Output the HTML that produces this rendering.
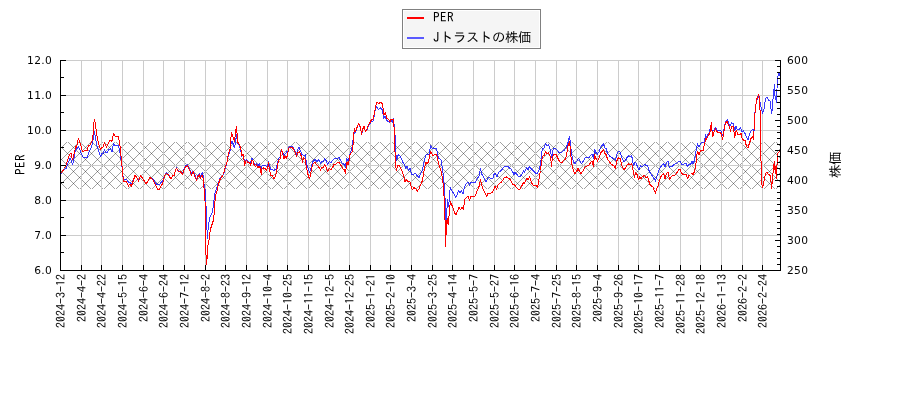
<!DOCTYPE html>
<html lang="ja"><head><meta charset="utf-8"><title>PER / Jトラストの株価</title>
<style>
html,body{margin:0;padding:0;background:#fff;}
body{width:900px;height:400px;overflow:hidden;position:relative;}
svg{position:absolute;left:0;top:0;display:block;}
.yl{font-family:"DejaVu Sans","Liberation Sans",sans-serif;font-size:10.67px;fill:#000;letter-spacing:0.3px;}
.xl{font-family:"IPAGothic","Liberation Mono","Noto Sans CJK JP",monospace;font-size:12px;fill:#000;}
.ti{font-family:"IPAGothic","Liberation Sans","Noto Sans CJK JP",sans-serif;font-size:13.33px;fill:#000;}
</style></head><body>
<svg width="900" height="400" viewBox="0 0 900 400">
<defs>
<clipPath id="pc"><rect x="61" y="60" width="719" height="210"/></clipPath>
<clipPath id="bc"><rect x="61" y="142" width="719" height="47"/></clipPath>
</defs>
<rect x="0" y="0" width="900" height="400" fill="#fff"/>
<g clip-path="url(#bc)" stroke="#000" stroke-opacity="0.37" stroke-width="1" fill="none" shape-rendering="crispEdges">
<path d="M57 140L6 191M69 140L18 191M81 140L30 191M93 140L42 191M105 140L54 191M117 140L66 191M129 140L78 191M141 140L90 191M153 140L102 191M165 140L114 191M177 140L126 191M189 140L138 191M201 140L150 191M213 140L162 191M225 140L174 191M237 140L186 191M249 140L198 191M261 140L210 191M273 140L222 191M285 140L234 191M297 140L246 191M309 140L258 191M321 140L270 191M333 140L282 191M345 140L294 191M357 140L306 191M369 140L318 191M381 140L330 191M393 140L342 191M405 140L354 191M417 140L366 191M429 140L378 191M441 140L390 191M453 140L402 191M465 140L414 191M477 140L426 191M489 140L438 191M501 140L450 191M513 140L462 191M525 140L474 191M537 140L486 191M549 140L498 191M561 140L510 191M573 140L522 191M585 140L534 191M597 140L546 191M609 140L558 191M621 140L570 191M633 140L582 191M645 140L594 191M657 140L606 191M669 140L618 191M681 140L630 191M693 140L642 191M705 140L654 191M717 140L666 191M729 140L678 191M741 140L690 191M753 140L702 191M765 140L714 191M777 140L726 191M789 140L738 191M801 140L750 191M813 140L762 191M825 140L774 191M837 140L786 191"/>
<path d="M6 140L57 191M18 140L69 191M30 140L81 191M42 140L93 191M54 140L105 191M66 140L117 191M78 140L129 191M90 140L141 191M102 140L153 191M114 140L165 191M126 140L177 191M138 140L189 191M150 140L201 191M162 140L213 191M174 140L225 191M186 140L237 191M198 140L249 191M210 140L261 191M222 140L273 191M234 140L285 191M246 140L297 191M258 140L309 191M270 140L321 191M282 140L333 191M294 140L345 191M306 140L357 191M318 140L369 191M330 140L381 191M342 140L393 191M354 140L405 191M366 140L417 191M378 140L429 191M390 140L441 191M402 140L453 191M414 140L465 191M426 140L477 191M438 140L489 191M450 140L501 191M462 140L513 191M474 140L525 191M486 140L537 191M498 140L549 191M510 140L561 191M522 140L573 191M534 140L585 191M546 140L597 191M558 140L609 191M570 140L621 191M582 140L633 191M594 140L645 191M606 140L657 191M618 140L669 191M630 140L681 191M642 140L693 191M654 140L705 191M666 140L717 191M678 140L729 191M690 140L741 191M702 140L753 191M714 140L765 191M726 140L777 191M738 140L789 191M750 140L801 191M762 140L813 191M774 140L825 191M786 140L837 191"/>
</g>
<path d="M81.5 60V270M101.5 60V270M122.5 60V270M143.5 60V270M163.5 60V270M184.5 60V270M205.5 60V270M225.5 60V270M246.5 60V270M267.5 60V270M287.5 60V270M308.5 60V270M329.5 60V270M349.5 60V270M370.5 60V270M390.5 60V270M411.5 60V270M432.5 60V270M452.5 60V270M473.5 60V270M494.5 60V270M514.5 60V270M535.5 60V270M556.5 60V270M576.5 60V270M597.5 60V270M618.5 60V270M638.5 60V270M659.5 60V270M680.5 60V270M700.5 60V270M721.5 60V270M742.5 60V270M762.5 60V270M61 60.5H780M61 95.5H780M61 130.5H780M61 165.5H780M61 200.5H780M61 235.5H780" stroke="#cccccc" stroke-width="1" fill="none" shape-rendering="crispEdges"/>
<g clip-path="url(#pc)" fill="none" stroke-linejoin="round" shape-rendering="crispEdges">
<polyline points="60.5,174.0 64.0,170.0 66.0,168.5 68.0,163.0 70.0,158.5 71.5,161.0 72.5,165.0 74.0,158.0 75.0,152.0 75.0,152.0 76.5,149.0 78.5,147.0 80.0,150.0 81.5,154.0 81.5,154.0 83.5,157.5 87.0,157.5 89.0,152.0 89.0,152.0 90.5,149.0 92.0,145.0 93.5,137.0 94.5,131.5 95.5,138.0 96.5,144.0 98.0,149.0 99.5,153.0 100.5,157.0 102.0,153.5 103.5,153.0 104.5,149.5 106.0,153.0 107.0,152.5 109.0,149.5 110.5,149.0 112.0,152.0 113.5,143.5 115.0,145.5 116.5,145.0 118.5,145.0 119.5,150.0 120.5,155.0 121.0,159.5 122.0,167.0 123.0,176.0 124.0,179.5 126.5,179.5 129.0,183.0 130.0,182.0 131.5,184.0 133.5,179.0 135.0,175.5 136.5,177.0 138.5,180.0 140.5,176.0 142.5,178.0 146.0,183.5 148.5,180.0 150.0,177.5 153.0,179.0 155.5,183.0 157.5,185.0 159.5,184.5 161.0,182.5 162.5,181.0 164.0,177.5 165.0,175.0 166.5,173.0 168.5,174.5 170.0,177.0 171.0,178.5 172.5,176.0 174.5,175.0 175.5,170.0 176.5,168.0 178.5,171.0 180.5,171.5 182.5,173.5 184.0,169.5 186.0,165.5 187.5,164.5 188.5,167.0 190.0,170.0 191.5,173.5 193.0,171.0 194.5,174.0 196.5,179.0 198.0,175.0 199.5,173.5 200.5,176.5 202.5,172.5 203.5,178.0 204.5,189.0 205.5,190.0 206.0,205.0 206.5,222.0 207.0,230.0 207.4,239.0 207.8,234.0 208.0,230.0 208.5,225.0 210.0,217.0 212.0,213.0 213.5,206.0 214.0,200.0 214.5,195.0 216.0,190.0 216.0,190.0 218.0,184.0 220.0,178.5 222.0,176.0 223.5,174.5 225.0,169.0 227.0,162.5 227.2,160.0 228.5,155.0 230.0,151.0 231.0,144.0 232.0,141.5 233.0,143.5 234.5,148.0 235.5,142.0 236.5,135.0 237.5,143.0 239.0,145.0 240.5,149.0 241.5,154.0 241.5,157.0 243.0,155.0 244.0,159.0 245.0,162.0 246.5,159.5 248.0,161.0 250.0,163.0 252.0,158.5 253.5,162.0 255.0,164.5 256.5,163.5 258.0,165.5 259.5,164.0 261.0,170.5 262.0,166.0 263.5,165.5 266.0,166.0 267.5,166.0 268.5,161.5 269.5,166.0 270.5,169.0 272.5,169.5 274.0,170.5 276.0,169.0 277.0,165.0 278.5,159.0 280.0,157.0 280.0,155.0 281.5,149.5 283.0,153.0 284.5,155.0 286.5,152.0 287.5,153.5 288.5,148.5 289.5,146.5 292.5,146.5 294.0,149.5 295.5,152.0 296.5,154.5 298.0,149.0 299.0,147.5 300.5,151.0 302.0,154.5 304.0,155.5 305.5,155.0 306.0,160.0 307.5,167.0 309.5,172.0 311.0,168.0 312.5,162.0 315.0,159.5 317.0,161.5 318.5,159.5 320.5,163.0 322.0,161.5 323.5,161.0 324.5,158.5 326.0,160.5 327.5,164.0 329.5,161.5 331.0,162.5 332.5,160.5 334.5,158.5 336.5,158.5 339.0,157.5 340.5,160.5 342.0,163.0 344.0,164.5 345.5,167.0 346.5,159.0 348.0,160.5 349.0,158.5 350.0,154.0 351.5,149.5 352.5,145.0 353.5,135.0 355.0,132.5 356.5,129.5 358.5,124.0 360.0,126.5 361.0,131.0 361.7,134.5 362.5,130.0 364.0,127.0 365.5,131.5 367.0,129.5 368.5,125.0 370.0,124.0 371.5,121.5 373.0,121.0 374.5,114.5 375.5,108.5 376.5,107.0 378.5,109.5 380.5,108.0 382.5,110.0 383.5,118.5 385.0,116.5 386.5,120.0 388.0,121.5 389.5,122.5 391.0,120.0 392.5,122.5 393.5,118.5 394.5,129.0 395.0,135.0 395.5,145.0 396.0,155.0 396.5,161.0 397.5,156.5 398.5,154.5 400.0,156.0 401.5,159.0 403.0,162.5 405.0,166.0 405.0,169.0 407.0,166.5 408.5,170.0 410.0,168.5 411.5,174.0 413.5,175.0 415.0,173.0 417.0,175.5 419.0,177.5 420.5,174.0 422.0,171.5 423.5,164.5 424.5,160.0 426.0,155.0 427.5,154.5 429.0,154.0 430.0,149.5 430.8,145.5 432.0,148.0 434.0,149.0 435.5,148.5 436.5,148.5 437.5,154.0 438.5,158.0 440.0,159.0 441.2,160.5 442.0,166.0 443.0,173.0 443.5,179.0 444.2,185.0 445.0,198.0 445.5,206.0 445.8,215.0 446.0,223.5 446.8,212.0 447.5,200.0 448.5,206.5 449.0,202.0 449.5,193.0 450.5,187.5 452.0,191.0 454.0,194.0 455.5,197.5 457.0,195.0 458.5,190.5 460.0,193.0 461.5,191.0 463.0,194.0 464.0,189.0 465.0,186.0 466.5,183.5 468.0,182.0 469.5,185.0 471.0,182.5 473.5,182.0 475.5,182.0 477.0,179.0 479.0,176.0 480.5,169.0 482.0,174.5 484.0,178.0 486.0,181.5 487.5,179.0 489.0,177.0 490.5,178.5 493.0,178.0 494.0,174.5 495.0,173.0 497.0,176.5 498.5,172.5 500.5,171.0 502.0,169.5 504.0,167.0 505.5,166.0 507.5,166.0 509.5,168.0 511.0,169.0 512.5,171.5 514.0,174.5 515.0,172.5 516.5,174.0 518.5,176.5 520.5,176.5 522.0,174.0 523.5,171.0 524.5,172.5 525.5,170.0 526.5,167.5 528.0,169.5 529.5,166.5 531.0,168.5 533.0,170.5 535.0,172.5 537.0,174.0 538.5,171.5 539.5,168.5 540.5,164.0 541.0,160.0 541.5,154.0 542.5,149.0 544.0,148.0 545.5,144.0 547.0,146.0 548.5,145.0 550.0,149.0 551.0,154.0 551.7,158.0 552.5,152.0 553.5,148.5 555.5,148.5 557.0,150.0 559.0,152.5 561.5,152.5 563.5,150.5 565.5,149.5 566.5,147.0 568.0,142.5 569.5,136.5 570.2,141.0 571.0,149.0 571.5,155.0 572.0,156.0 573.5,162.0 575.0,163.5 577.0,161.0 578.5,158.5 580.0,161.0 581.5,163.5 583.5,161.0 585.0,158.0 587.0,157.5 589.0,157.5 590.5,155.5 592.0,154.0 593.5,158.5 594.5,149.5 596.0,152.5 597.5,154.0 599.0,152.0 600.5,147.5 602.0,145.5 603.5,143.5 604.5,147.5 606.0,148.5 607.5,153.0 609.5,156.0 611.5,157.5 613.5,158.5 615.5,160.5 617.0,154.0 618.5,151.5 620.0,152.0 621.0,155.0 622.5,159.5 624.0,161.5 625.5,160.5 627.0,157.5 628.5,156.0 630.0,157.0 631.5,155.5 632.5,159.5 633.5,165.5 635.0,162.5 636.5,163.5 637.5,167.5 639.0,169.5 640.5,165.5 642.0,167.0 643.5,165.5 645.0,164.5 646.5,166.0 647.5,165.5 649.0,170.5 650.5,173.5 652.5,176.0 654.0,178.5 655.5,181.0 656.2,178.5 657.5,174.5 659.0,170.0 660.5,167.5 662.0,165.0 663.5,163.5 665.0,166.5 666.5,162.5 668.0,161.5 669.5,168.0 671.0,166.0 672.5,166.0 674.0,164.5 675.0,164.0 677.0,163.0 678.5,161.5 680.0,161.5 681.5,164.0 683.5,164.5 685.0,163.5 686.5,164.0 687.5,167.0 689.0,164.0 690.5,164.5 692.0,161.5 693.0,164.0 694.0,161.5 695.0,157.0 696.0,151.0 697.0,146.0 697.5,144.0 699.0,147.0 700.5,143.5 702.0,142.5 703.5,143.0 704.5,140.5 705.5,135.0 706.5,137.0 708.0,134.5 709.5,132.0 710.5,125.5 711.5,129.0 712.5,131.0 714.0,130.0 715.5,127.5 717.0,130.0 719.0,130.5 721.0,131.0 722.5,136.0 723.5,132.0 724.5,126.5 725.5,121.5 727.5,119.5 728.5,123.0 730.0,126.0 731.5,123.0 733.5,123.5 734.5,131.0 736.0,126.5 737.5,130.0 739.0,129.5 740.5,127.5 742.0,132.0 743.5,131.0 745.0,133.5 746.5,137.0 748.0,139.5 749.5,134.5 751.0,131.0 753.0,129.0 754.0,132.0 754.5,117.0 755.5,107.0 757.0,99.5 758.5,96.0 759.5,99.0 760.0,102.0 761.0,107.0 762.5,113.5 764.0,109.0 765.5,99.0 767.0,97.0 768.5,100.0 770.0,100.5 771.5,113.5 772.5,108.0 773.0,99.0 773.5,94.0 774.5,85.0 775.0,96.0 776.3,101.0 776.7,102.5 777.0,89.0 777.5,77.0 779.0,73.5 780.0,76.0" stroke="#0000ff" stroke-opacity="0.78" stroke-width="1"/>
<polyline points="60.5,174.0 64.5,168.5 67.5,161.0 68.5,157.5 70.0,154.0 71.0,153.5 72.5,160.0 73.5,155.5 75.0,150.0 75.0,147.0 76.0,146.0 76.5,148.0 77.5,142.0 78.5,138.5 79.5,141.0 81.0,146.0 82.5,152.0 84.5,150.5 87.0,151.0 88.5,145.0 90.0,145.0 92.0,141.5 93.0,135.0 93.5,125.0 94.5,120.0 95.5,124.0 96.5,133.0 97.5,139.0 99.0,145.0 100.5,150.0 101.5,147.5 103.0,147.0 104.5,142.5 106.5,147.0 109.0,142.0 110.3,140.0 111.5,141.5 112.5,139.5 113.5,133.5 114.5,135.0 115.5,136.5 118.5,136.5 119.5,143.0 120.5,149.5 121.0,156.0 121.5,162.0 122.5,170.0 123.2,180.0 124.0,181.5 126.5,181.5 128.5,186.0 130.0,184.0 131.5,186.0 133.5,180.0 135.0,175.5 136.5,177.0 138.5,181.0 140.5,176.0 142.5,178.0 146.0,184.0 148.5,180.0 150.0,177.5 153.0,180.0 155.5,185.0 157.5,189.0 159.5,189.0 161.0,186.0 162.5,184.0 164.0,178.0 165.0,175.0 166.5,173.5 168.5,175.0 170.0,177.5 171.0,179.0 172.5,176.0 174.5,175.0 175.5,170.0 176.5,168.5 178.5,171.5 180.5,172.0 182.5,174.5 184.0,170.0 186.0,166.5 187.5,165.5 188.5,168.0 190.0,171.0 191.5,175.0 192.5,173.0 193.5,172.0 194.5,175.5 196.5,180.5 198.0,176.5 199.5,175.0 200.5,178.5 202.0,175.0 203.0,177.5 204.0,188.0 204.7,190.0 205.0,201.0 205.5,230.0 205.8,245.0 206.2,264.5 207.2,258.0 207.8,245.0 208.8,244.0 209.2,236.0 210.0,232.0 210.5,229.0 213.5,220.0 214.5,210.0 215.0,201.0 216.0,194.0 217.0,191.0 218.5,184.0 220.0,179.5 222.0,176.5 223.5,174.5 225.0,168.0 227.0,162.0 227.0,160.0 228.5,154.0 230.0,149.0 230.5,141.0 231.5,132.5 232.5,135.0 233.5,139.0 234.5,141.5 235.5,132.0 236.5,126.5 237.0,133.0 237.5,142.0 239.0,144.0 240.5,147.0 241.5,153.0 242.0,155.5 243.2,154.5 244.0,160.0 244.7,166.0 245.5,162.0 246.5,160.5 248.0,162.5 249.5,163.0 250.5,165.0 252.0,160.5 253.0,161.0 254.0,164.5 255.5,166.5 256.5,165.0 258.0,168.0 259.0,166.5 260.0,167.5 261.2,174.5 262.0,169.0 263.5,168.0 265.0,168.5 266.5,170.0 267.5,168.5 268.5,163.0 269.5,170.0 271.0,175.5 272.5,176.0 274.0,178.5 275.5,176.0 276.5,171.5 278.0,163.0 279.0,160.0 280.0,159.0 280.5,154.0 281.5,150.0 282.5,153.0 284.0,158.5 285.0,156.0 286.5,158.0 287.5,155.0 288.5,149.0 290.0,147.0 292.5,148.0 294.0,150.0 295.5,153.5 296.5,156.5 298.0,152.5 299.5,151.5 300.5,154.0 302.0,158.5 302.5,163.0 303.5,158.0 305.0,158.5 306.0,165.0 307.5,173.0 309.5,179.0 311.0,172.0 312.0,167.0 313.0,164.0 315.0,162.5 317.0,165.0 319.0,167.5 320.5,170.0 322.0,167.5 323.5,168.0 324.5,164.5 326.0,167.0 327.5,171.0 329.5,168.5 331.0,170.0 332.5,167.5 334.0,164.5 336.0,164.0 337.5,162.5 339.0,162.0 340.5,165.0 342.0,167.0 343.5,169.5 344.5,170.0 345.5,173.5 346.5,165.0 347.0,162.5 348.0,165.0 349.0,161.0 350.0,155.0 351.0,153.0 352.5,151.5 353.0,145.0 353.5,135.0 354.5,128.5 355.2,132.0 356.5,129.0 358.5,123.5 360.0,126.0 361.0,131.0 361.5,134.5 362.5,129.5 364.0,126.5 365.5,131.5 367.0,129.0 368.5,124.5 370.0,122.5 371.5,119.5 373.0,119.0 374.0,115.5 375.0,110.0 376.0,105.0 377.0,102.5 378.5,103.5 380.5,102.5 382.5,103.5 383.5,112.0 384.0,114.5 385.5,112.5 386.5,118.0 388.5,119.5 390.0,121.5 391.0,119.0 393.5,119.0 394.0,127.0 394.5,135.0 395.0,152.0 395.5,165.0 396.5,171.0 397.5,166.0 399.0,165.5 400.5,167.5 402.0,171.0 403.5,175.0 405.0,182.0 406.5,180.0 408.0,181.5 410.0,182.0 411.5,188.0 412.5,189.5 414.0,187.5 416.0,189.0 417.5,191.0 419.0,189.0 420.5,185.0 422.0,181.5 423.0,177.0 423.5,173.0 425.0,166.0 426.0,162.5 427.0,163.5 428.5,162.0 429.5,156.0 430.5,151.5 431.5,153.0 433.0,155.5 435.0,154.5 436.5,154.5 437.5,158.0 438.5,163.0 440.0,168.0 441.5,172.0 442.5,179.0 442.8,181.0 443.5,189.0 444.2,198.0 444.7,207.0 444.9,216.0 445.1,223.0 445.5,239.0 445.5,246.5 445.9,239.0 446.3,225.0 447.4,218.0 448.1,224.5 448.7,220.0 449.3,212.0 449.5,209.0 450.5,202.0 452.0,205.5 453.5,209.5 455.0,213.5 456.0,214.5 457.5,211.0 459.0,207.5 460.5,209.5 462.0,207.5 463.2,209.5 464.0,205.0 465.0,199.0 466.5,197.5 468.0,196.5 469.5,200.0 471.0,196.5 473.0,196.5 475.0,196.0 476.5,192.5 478.5,188.0 479.5,185.0 480.5,179.5 481.5,185.0 483.0,189.0 485.0,193.0 486.5,196.5 488.0,193.5 489.5,193.5 492.0,192.5 493.5,190.0 495.0,186.0 496.5,189.0 498.0,185.0 499.5,183.5 501.5,182.0 503.0,180.0 504.5,177.5 506.5,177.0 508.0,178.0 510.0,179.5 511.5,182.0 513.0,184.5 514.5,185.0 516.5,187.5 518.5,189.5 520.0,189.0 521.5,186.5 523.5,182.5 524.5,183.5 525.5,181.0 527.0,178.5 528.0,180.0 529.5,176.5 530.5,180.0 532.0,183.5 533.5,185.5 536.0,185.5 537.5,187.5 538.5,182.0 539.5,175.5 540.5,170.5 541.5,162.0 542.5,156.5 544.0,155.5 545.5,151.5 547.0,153.5 548.5,152.5 550.0,156.0 551.0,161.0 551.5,166.5 552.2,159.0 553.5,154.5 556.0,154.5 557.5,157.5 559.0,160.5 560.5,162.5 562.0,162.5 564.0,160.0 565.5,159.0 566.5,154.5 567.5,149.0 568.5,144.0 569.5,141.5 570.2,147.0 570.8,155.0 571.0,157.0 572.0,165.0 573.5,171.0 575.0,173.5 576.5,171.5 578.0,168.5 579.5,171.5 581.0,173.5 583.0,171.0 585.0,167.0 587.0,166.0 589.0,165.0 590.5,163.0 592.0,161.0 593.5,166.5 594.5,154.5 596.0,158.5 597.5,161.0 599.0,158.5 600.5,153.0 602.0,151.5 603.5,149.5 604.5,153.0 606.0,154.5 607.5,159.0 609.5,162.0 611.5,164.5 613.5,165.5 615.5,168.0 617.0,160.5 618.5,157.5 620.0,158.5 621.0,162.0 622.5,167.5 624.0,169.5 625.5,168.0 627.0,165.0 628.5,164.0 630.0,165.0 631.5,163.5 632.5,167.0 633.5,172.0 634.5,178.0 635.5,172.5 637.0,174.5 638.5,180.0 639.5,177.0 641.0,178.5 642.5,176.5 644.5,175.5 646.0,177.5 647.5,176.5 648.5,180.0 650.0,184.5 651.5,186.0 653.0,187.0 654.5,191.0 655.5,193.5 656.5,189.0 658.0,186.0 659.5,180.0 661.0,176.5 663.5,173.5 665.0,178.5 666.5,173.5 668.0,172.0 669.5,179.5 671.0,177.0 673.0,175.5 675.0,175.0 677.0,172.5 678.5,170.0 680.0,169.5 681.5,173.0 683.5,175.0 685.0,174.5 686.5,175.0 687.5,178.5 689.0,175.5 690.5,174.5 692.0,173.0 693.0,175.0 694.0,172.5 695.0,169.0 696.0,163.0 696.5,157.0 697.5,151.5 699.0,154.5 700.5,151.0 702.0,150.5 703.5,150.0 704.0,146.0 705.0,142.0 705.5,139.0 706.5,139.5 707.5,136.5 709.0,134.5 710.0,132.0 710.8,126.5 711.5,122.5 712.0,131.0 712.8,137.0 714.0,132.0 715.5,129.0 717.0,131.5 718.5,133.0 720.0,132.5 721.5,134.0 722.5,140.0 723.5,134.5 724.5,128.0 725.5,123.0 727.0,121.5 728.0,124.0 729.5,126.5 730.5,131.5 731.5,126.5 733.0,126.5 734.0,131.5 734.8,138.0 735.5,132.0 736.5,131.0 738.0,135.0 740.0,134.5 741.0,133.0 742.0,138.0 743.5,140.0 745.0,140.5 746.5,146.5 748.0,147.5 749.5,143.0 751.0,138.5 752.5,136.5 753.5,140.0 754.0,131.0 754.5,119.0 755.5,107.0 757.0,98.5 758.5,94.5 759.5,98.0 760.0,110.0 760.5,120.0 760.7,158.0 761.0,161.0 761.5,175.0 762.0,185.0 762.3,187.5 763.5,184.0 764.5,179.0 765.5,174.0 767.0,172.0 768.5,174.5 770.5,175.5 771.5,188.5 772.5,180.0 773.5,167.0 774.5,161.5 775.3,174.0 775.7,166.5 776.3,178.5 777.0,165.0 777.5,158.0 777.8,153.5 779.2,151.5 780.0,152.0" stroke="#ff0000" stroke-width="1"/>
</g>
<path d="M60.5 60V271M780.5 60V271M60 270.5H781M61 60.5H66M61 95.5H66M61 130.5H66M61 165.5H66M61 200.5H66M61 235.5H66M61 270.5H66M61 77.5H64M61 112.5H64M61 147.5H64M61 182.5H64M61 217.5H64M61 252.5H64M775 60.5H780M777 66.5H780M777 72.5H780M777 78.5H780M777 84.5H780M775 90.5H780M777 96.5H780M777 102.5H780M777 108.5H780M777 114.5H780M775 120.5H780M777 126.5H780M777 132.5H780M777 138.5H780M777 144.5H780M775 150.5H780M777 156.5H780M777 162.5H780M777 168.5H780M777 174.5H780M775 180.5H780M777 186.5H780M777 192.5H780M777 198.5H780M777 204.5H780M775 210.5H780M777 216.5H780M777 222.5H780M777 228.5H780M777 234.5H780M775 240.5H780M777 246.5H780M777 252.5H780M777 258.5H780M777 264.5H780M775 270.5H780M81.5 265V270M101.5 265V270M122.5 265V270M143.5 265V270M163.5 265V270M184.5 265V270M205.5 265V270M225.5 265V270M246.5 265V270M267.5 265V270M287.5 265V270M308.5 265V270M329.5 265V270M349.5 265V270M370.5 265V270M390.5 265V270M411.5 265V270M432.5 265V270M452.5 265V270M473.5 265V270M494.5 265V270M514.5 265V270M535.5 265V270M556.5 265V270M576.5 265V270M597.5 265V270M618.5 265V270M638.5 265V270M659.5 265V270M680.5 265V270M700.5 265V270M721.5 265V270M742.5 265V270M762.5 265V270" stroke="#000" stroke-width="1" fill="none" shape-rendering="crispEdges"/>
<g style="opacity:0.999">
<text class="yl" x="52" y="64.4" text-anchor="end">12.0</text>
<text class="yl" x="52" y="99.4" text-anchor="end">11.0</text>
<text class="yl" x="52" y="134.4" text-anchor="end">10.0</text>
<text class="yl" x="52" y="169.4" text-anchor="end">9.0</text>
<text class="yl" x="52" y="204.4" text-anchor="end">8.0</text>
<text class="yl" x="52" y="239.4" text-anchor="end">7.0</text>
<text class="yl" x="52" y="274.4" text-anchor="end">6.0</text>
<text class="yl" x="787" y="64.4">600</text>
<text class="yl" x="787" y="94.4">550</text>
<text class="yl" x="787" y="124.4">500</text>
<text class="yl" x="787" y="154.4">450</text>
<text class="yl" x="787" y="184.4">400</text>
<text class="yl" x="787" y="214.4">350</text>
<text class="yl" x="787" y="244.4">300</text>
<text class="yl" x="787" y="274.4">250</text>
<text class="xl" transform="translate(60.5,274) rotate(-90)" text-anchor="end" x="0" y="4.2">2024-3-12</text>
<text class="xl" transform="translate(81.5,274) rotate(-90)" text-anchor="end" x="0" y="4.2">2024-4-2</text>
<text class="xl" transform="translate(101.5,274) rotate(-90)" text-anchor="end" x="0" y="4.2">2024-4-22</text>
<text class="xl" transform="translate(122.5,274) rotate(-90)" text-anchor="end" x="0" y="4.2">2024-5-15</text>
<text class="xl" transform="translate(143.5,274) rotate(-90)" text-anchor="end" x="0" y="4.2">2024-6-4</text>
<text class="xl" transform="translate(163.5,274) rotate(-90)" text-anchor="end" x="0" y="4.2">2024-6-24</text>
<text class="xl" transform="translate(184.5,274) rotate(-90)" text-anchor="end" x="0" y="4.2">2024-7-12</text>
<text class="xl" transform="translate(205.5,274) rotate(-90)" text-anchor="end" x="0" y="4.2">2024-8-2</text>
<text class="xl" transform="translate(225.5,274) rotate(-90)" text-anchor="end" x="0" y="4.2">2024-8-23</text>
<text class="xl" transform="translate(246.5,274) rotate(-90)" text-anchor="end" x="0" y="4.2">2024-9-12</text>
<text class="xl" transform="translate(267.5,274) rotate(-90)" text-anchor="end" x="0" y="4.2">2024-10-4</text>
<text class="xl" transform="translate(287.5,274) rotate(-90)" text-anchor="end" x="0" y="4.2">2024-10-25</text>
<text class="xl" transform="translate(308.5,274) rotate(-90)" text-anchor="end" x="0" y="4.2">2024-11-15</text>
<text class="xl" transform="translate(329.5,274) rotate(-90)" text-anchor="end" x="0" y="4.2">2024-12-5</text>
<text class="xl" transform="translate(349.5,274) rotate(-90)" text-anchor="end" x="0" y="4.2">2024-12-25</text>
<text class="xl" transform="translate(370.5,274) rotate(-90)" text-anchor="end" x="0" y="4.2">2025-1-21</text>
<text class="xl" transform="translate(390.5,274) rotate(-90)" text-anchor="end" x="0" y="4.2">2025-2-10</text>
<text class="xl" transform="translate(411.5,274) rotate(-90)" text-anchor="end" x="0" y="4.2">2025-3-4</text>
<text class="xl" transform="translate(432.5,274) rotate(-90)" text-anchor="end" x="0" y="4.2">2025-3-25</text>
<text class="xl" transform="translate(452.5,274) rotate(-90)" text-anchor="end" x="0" y="4.2">2025-4-14</text>
<text class="xl" transform="translate(473.5,274) rotate(-90)" text-anchor="end" x="0" y="4.2">2025-5-7</text>
<text class="xl" transform="translate(494.5,274) rotate(-90)" text-anchor="end" x="0" y="4.2">2025-5-27</text>
<text class="xl" transform="translate(514.5,274) rotate(-90)" text-anchor="end" x="0" y="4.2">2025-6-16</text>
<text class="xl" transform="translate(535.5,274) rotate(-90)" text-anchor="end" x="0" y="4.2">2025-7-4</text>
<text class="xl" transform="translate(556.5,274) rotate(-90)" text-anchor="end" x="0" y="4.2">2025-7-25</text>
<text class="xl" transform="translate(576.5,274) rotate(-90)" text-anchor="end" x="0" y="4.2">2025-8-15</text>
<text class="xl" transform="translate(597.5,274) rotate(-90)" text-anchor="end" x="0" y="4.2">2025-9-4</text>
<text class="xl" transform="translate(618.5,274) rotate(-90)" text-anchor="end" x="0" y="4.2">2025-9-26</text>
<text class="xl" transform="translate(638.5,274) rotate(-90)" text-anchor="end" x="0" y="4.2">2025-10-17</text>
<text class="xl" transform="translate(659.5,274) rotate(-90)" text-anchor="end" x="0" y="4.2">2025-11-7</text>
<text class="xl" transform="translate(680.5,274) rotate(-90)" text-anchor="end" x="0" y="4.2">2025-11-28</text>
<text class="xl" transform="translate(700.5,274) rotate(-90)" text-anchor="end" x="0" y="4.2">2025-12-18</text>
<text class="xl" transform="translate(721.5,274) rotate(-90)" text-anchor="end" x="0" y="4.2">2026-1-13</text>
<text class="xl" transform="translate(742.5,274) rotate(-90)" text-anchor="end" x="0" y="4.2">2026-2-2</text>
<text class="xl" transform="translate(762.5,274) rotate(-90)" text-anchor="end" x="0" y="4.2">2026-2-24</text>
<text class="ti" transform="translate(25,164.5) rotate(-90)" text-anchor="middle" style="letter-spacing:0.33px">PER</text>
<text class="ti" transform="translate(839.5,165) rotate(-90)" text-anchor="middle" style="letter-spacing:-0.33px">株価</text>
<rect x="402.5" y="9.5" width="138" height="39" fill="#f5f5f5" stroke="#808080" stroke-width="1" shape-rendering="crispEdges"/>
<rect x="403.5" y="10.5" width="136" height="37" fill="none" stroke="#ffffff" stroke-width="1" shape-rendering="crispEdges"/>
<path d="M407 18H424" stroke="#ff0000" stroke-width="2" shape-rendering="crispEdges"/>
<path d="M407 38H424" stroke="#5a5aff" stroke-width="2" shape-rendering="crispEdges"/>
<text class="ti" x="433" y="21.5" style="letter-spacing:0.33px">PER</text>
<text class="ti" x="433" y="41.5"><tspan style="letter-spacing:0.33px">J</tspan><tspan style="letter-spacing:-0.33px">トラストの株価</tspan></text>
</g>
</svg>
</body></html>
